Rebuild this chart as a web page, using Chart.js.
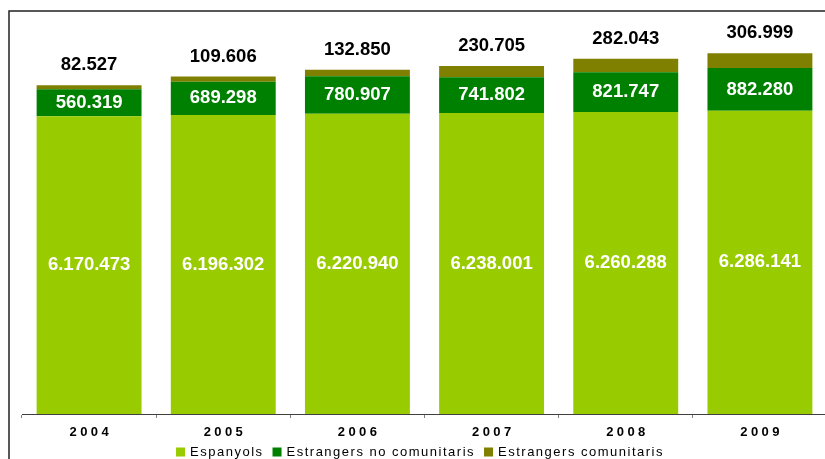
<!DOCTYPE html>
<html>
<head>
<meta charset="utf-8">
<script src="https://cdn.jsdelivr.net/npm/chart.js@4/dist/chart.umd.min.js"></script>
<style>
  html, body { margin: 0; padding: 0; background: #fff; overflow: hidden; }
  canvas { display: block; }
</style>
</head>
<body>
<canvas id="chart" width="830" height="459"></canvas>
<script>
// values
const years = ['2004', '2005', '2006', '2007', '2008', '2009'];
const espanyols = [6170473, 6196302, 6220940, 6238001, 6260288, 6286141];
const noComunitaris = [560319, 689298, 780907, 741802, 821747, 882280];
const comunitaris = [82527, 109606, 132850, 230705, 282043, 306999];

const seriesNames = ['Espanyols', 'Estrangers no comunitaris', 'Estrangers comunitaris'];
const seriesColors = ['#99cc00', '#008000', '#808000'];

const FONT = '"Liberation Sans", Arial, sans-serif';

// 6170473 -> "6.170.473"
function fmt(n) {
    return String(n).replace(/\B(?=(\d{3})+(?!\d))/g, '.');
}

// white background + frame lines on the top and left side
const framePlugin = {
    id: 'frame',
    beforeDraw(chart) {
        const ctx = chart.ctx;
        ctx.save();
        ctx.fillStyle = '#fff';
        ctx.fillRect(0, 0, chart.width, chart.height);
        ctx.strokeStyle = '#222';
        ctx.lineWidth = 1.5;
        ctx.beginPath();
        ctx.moveTo(9, chart.height);
        ctx.lineTo(9, 11);
        ctx.lineTo(chart.width, 11);
        ctx.stroke();
        ctx.restore();
    }
};

// value labels on/above the bars, year labels, legend
const labelsPlugin = {
    id: 'labels',
    afterDatasetsDraw(chart) {
        const ctx = chart.ctx;
        ctx.save();
        ctx.textAlign = 'center';
        ctx.textBaseline = 'middle';
        ctx.letterSpacing = '0px';
        ctx.font = 'bold 18.5px ' + FONT;

        chart.data.datasets.forEach((ds, i) => {
            const meta = chart.getDatasetMeta(i);
            meta.data.forEach((bar, j) => {
                const { x, y, base } = bar.getProps(['x', 'y', 'base'], true);
                if (i < 2) {
                    ctx.fillStyle = '#fff';
                    ctx.fillText(fmt(ds.data[j]), x, (y + base) / 2);
                } else {
                    ctx.fillStyle = '#000';
                    ctx.fillText(fmt(ds.data[j]), x, y - 20);
                }
            });
        });
        ctx.restore();
    },
    afterDraw(chart) {
        const ctx = chart.ctx;
        const xScale = chart.scales.x;

        // year labels, spaced out
        ctx.save();
        ctx.fillStyle = '#000';
        ctx.textAlign = 'center';
        ctx.textBaseline = 'middle';
        ctx.font = 'bold 13px ' + FONT;
        ctx.letterSpacing = '3.4px';
        years.forEach((yr, i) => {
            ctx.fillText(yr, xScale.getPixelForValue(i) + 1.7, 432);
        });

        // legend
        ctx.font = '13px ' + FONT;
        ctx.letterSpacing = '1.5px';
        ctx.textAlign = 'left';
        const box = 9, gapText = 5, gapItem = 9;
        const widths = seriesNames.map(n => ctx.measureText(n).width);
        let total = 0;
        widths.forEach(w => { total += box + gapText + w + gapItem; });
        total -= gapItem;
        let x = 420 - total / 2;
        const cy = 452;
        seriesNames.forEach((name, i) => {
            ctx.fillStyle = seriesColors[i];
            ctx.fillRect(x, cy - 4.5, box, box);
            ctx.fillStyle = '#000';
            ctx.fillText(name, x + box + gapText, cy);
            x += box + gapText + widths[i] + gapItem;
        });
        ctx.restore();
    }
};

const ctx = document.getElementById('chart').getContext('2d');

new Chart(ctx, {
    type: 'bar',
    data: {
        labels: years,
        datasets: [
            { label: seriesNames[0], data: espanyols, backgroundColor: seriesColors[0] },
            { label: seriesNames[1], data: noComunitaris, backgroundColor: seriesColors[1] },
            { label: seriesNames[2], data: comunitaris, backgroundColor: seriesColors[2] }
        ]
    },
    options: {
        responsive: false,
        animation: false,
        devicePixelRatio: 1,
        categoryPercentage: 1,
        barPercentage: 0.782,
        layout: {
            padding: { left: 22, right: 3, top: 28, bottom: 41 }
        },
        plugins: {
            legend: { display: false },
            tooltip: { enabled: false }
        },
        scales: {
            x: {
                stacked: true,
                grid: {
                    display: true,
                    drawOnChartArea: false,
                    drawTicks: true,
                    tickLength: 4,
                    color: '#808080'
                },
                border: { display: true, color: '#404040', width: 1 },
                ticks: { display: false }
            },
            y: {
                stacked: true,
                display: false,
                min: 0,
                max: 8000000
            }
        }
    },
    plugins: [framePlugin, labelsPlugin]
});
</script>
</body>
</html>
